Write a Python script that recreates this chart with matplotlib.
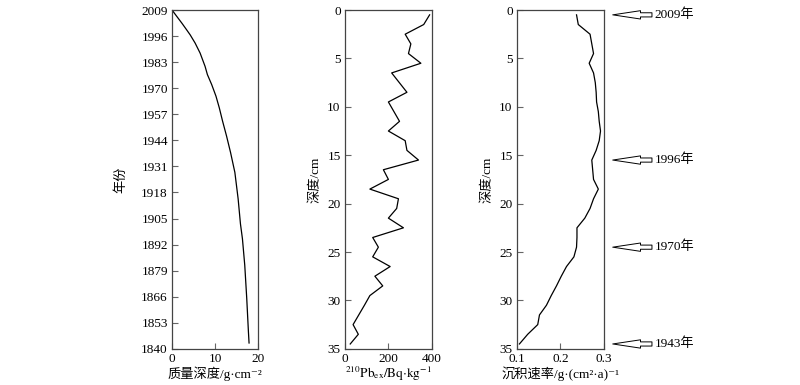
import matplotlib.pyplot as plt

plt.rcParams['font.family'] = ['Liberation Serif', 'Noto Sans CJK SC', 'DejaVu Serif']
plt.rcParams['mathtext.fontset'] = 'stix'

# panel 1: year vs mass depth
mass_depth = [0, 1.15, 2.31, 3.31, 4.23, 5.38, 6.54, 7.69, 8.23, 9.23, 10.23, 11.0,
              11.77, 12.69, 13.62, 14.62, 15.38, 15.92, 16.38, 16.92, 17.38, 17.77, 17.92]
years = [2009, 2005.7, 2002.4, 1999.4, 1996.6, 1992.5, 1987.5, 1980.9, 1976.8, 1971.8,
         1966.0, 1960.2, 1953.5, 1946.1, 1937.9, 1928.0, 1914.8, 1902.3, 1894.9,
         1881.7, 1865.2, 1848.6, 1842.9]
year_ticks = [1840, 1853, 1866, 1879, 1892, 1905, 1918, 1931, 1944, 1957, 1970, 1983, 1996, 2009]

# panel 2: 210Pb_ex activity vs depth
pb_depth = [0.5, 1.5, 2.5, 3.5, 4.5, 5.5, 6.5, 8.5, 9.5, 11.5, 12.5, 13.5, 14.5, 15.5,
            16.5, 17.5, 18.5, 19.5, 20.5, 21.5, 22.5, 23.5, 24.5, 25.5, 26.5, 27.5,
            28.5, 29.5, 30.5, 31.5, 32.5, 33.5, 34.5]
pb_ex = [389, 362, 277, 303, 292, 349, 215, 285, 200, 251, 200, 277, 285, 338,
         177, 200, 115, 246, 238, 200, 269, 128, 154, 128, 208, 138,
         174, 115, 90, 64, 38, 62, 25]

# panel 3: sedimentation rate vs depth
rate_depth = [0.5 + i for i in range(35)]
sed_rate = [0.237, 0.241, 0.268, 0.272, 0.276, 0.266, 0.276, 0.280, 0.282, 0.283,
            0.287, 0.289, 0.292, 0.289, 0.282, 0.272, 0.274, 0.276, 0.287, 0.276,
            0.268, 0.256, 0.238, 0.238, 0.237, 0.231, 0.214, 0.202, 0.191, 0.179,
            0.168, 0.152, 0.148, 0.125, 0.106]

# dated horizons
mark_depths = [0.5, 15.5, 24.5, 34.5]
mark_labels = ['2009年', '1996年', '1970年', '1943年']

fig = plt.figure(figsize=(8, 3.85), dpi=100)
bottom, height = 0.094, 0.880
ax1 = fig.add_axes([0.215, bottom, 0.1075, height])
ax2 = fig.add_axes([0.431, bottom, 0.109, height])
ax3 = fig.add_axes([0.646, bottom, 0.109, height])

fs = 9.5
for ax in (ax1, ax2, ax3):
    for sp in ax.spines.values():
        sp.set_color('#444444')
        sp.set_linewidth(0.9)
    ax.tick_params(direction='in', length=4, width=0.8, color='#666666',
                   labelsize=fs, pad=3, top=False, right=False)
    ax.tick_params(axis='x', pad=3)

ax1.plot(mass_depth, years, color='black', lw=0.9)
ax1.set_xlim(0, 20)
ax1.set_ylim(1840, 2009)
ax1.set_xticks([0, 10, 20])
ax1.set_yticks(year_ticks)
ax1.set_xlabel('质量深度/g·cm⁻²', fontsize=fs, labelpad=1)
ax1.set_ylabel('年份', fontsize=fs, labelpad=10)

ax2.plot(pb_ex, pb_depth, color='black', lw=0.9)
ax2.set_xlim(0, 400)
ax2.set_ylim(35, 0)
ax2.set_xticks([0, 200, 400])
ax2.set_yticks(range(0, 36, 5))
ax2.set_xlabel(r'$^{210}\mathrm{Pb}_{\mathrm{ex}}/\mathrm{Bq{\cdot}kg}^{-1}$', fontsize=fs, labelpad=0)
ax2.set_ylabel('深度/cm', fontsize=fs, labelpad=4)

ax3.plot(sed_rate, rate_depth, color='black', lw=0.9)
ax3.set_xlim(0.1, 0.3)
ax3.set_ylim(35, 0)
ax3.set_xticks([0.1, 0.2, 0.3])
ax3.set_yticks(range(0, 36, 5))
ax3.set_xlabel('沉积速率/g·(cm²·a)⁻¹', fontsize=fs, labelpad=1)
ax3.set_ylabel('深度/cm', fontsize=fs, labelpad=4)

for d, lab in zip(mark_depths, mark_labels):
    ax3.annotate('', xy=(1.10, d), xytext=(1.55, d),
                 xycoords=(ax3.transAxes, ax3.transData),
                 textcoords=(ax3.transAxes, ax3.transData),
                 annotation_clip=False,
                 arrowprops=dict(arrowstyle='simple,head_length=2.0,head_width=0.6,tail_width=0.3',
                                 fc='white', ec='black', lw=0.7, shrinkA=0, shrinkB=0))
    ax3.text(1.58, d, lab, transform=ax3.get_yaxis_transform(), fontsize=fs,
             va='center', ha='left', clip_on=False)

fig.savefig('out.png', dpi=100, facecolor='white')
